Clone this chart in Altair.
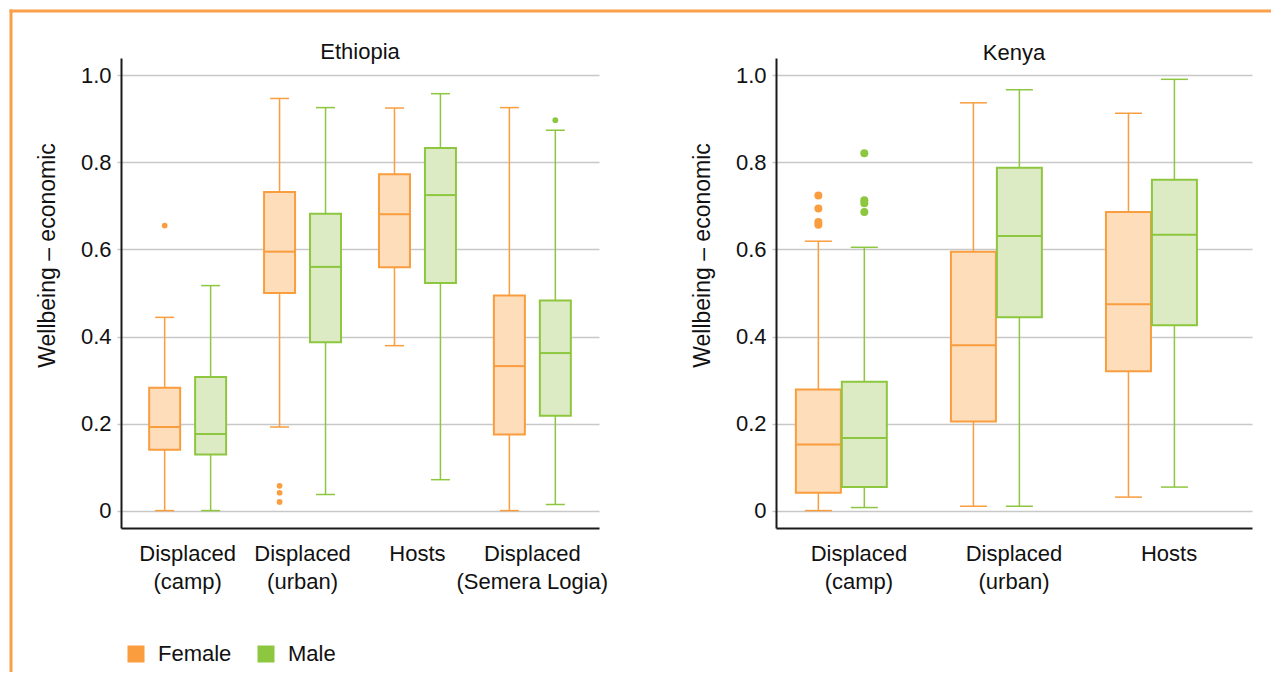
import altair as alt
import pandas as pd

GENDERS = ["Female", "Male"]
GKEYS = ["f", "m"]
STRONG = ["#F99D3E", "#8DC63F"]
LIGHT = ["#FEDDBB", "#DDEBC5"]
FRAME = "#F9A04A"
Y_TITLE = "Wellbeing – economic"

# ---- Ethiopia ----
eth_groups = ["Displaced (camp)", "Displaced (urban)", "Hosts", "Displaced (Semera Logia)"]
eth_f_lo = [0.0, 0.192, 0.379, 0.0]
eth_f_q1 = [0.140, 0.500, 0.559, 0.175]
eth_f_med = [0.192, 0.595, 0.681, 0.332]
eth_f_q3 = [0.282, 0.732, 0.773, 0.494]
eth_f_hi = [0.444, 0.947, 0.925, 0.926]
eth_m_lo = [0.0, 0.037, 0.071, 0.014]
eth_m_q1 = [0.129, 0.387, 0.523, 0.218]
eth_m_med = [0.176, 0.560, 0.725, 0.362]
eth_m_q3 = [0.307, 0.682, 0.833, 0.483]
eth_m_hi = [0.517, 0.926, 0.958, 0.874]
eth_out_group = ["Displaced (camp)", "Displaced (urban)", "Displaced (urban)", "Displaced (urban)",
                 "Displaced (Semera Logia)"]
eth_out_gender = ["Female", "Female", "Female", "Female", "Male"]
eth_out_value = [0.655, 0.057, 0.041, 0.020, 0.897]

# ---- Kenya ----
ken_groups = ["Displaced (camp)", "Displaced (urban)", "Hosts"]
ken_f_lo = [0.0, 0.010, 0.031]
ken_f_q1 = [0.041, 0.205, 0.320]
ken_f_med = [0.152, 0.380, 0.474]
ken_f_q3 = [0.278, 0.595, 0.686]
ken_f_hi = [0.619, 0.937, 0.913]
ken_m_lo = [0.007, 0.010, 0.054]
ken_m_q1 = [0.054, 0.444, 0.426]
ken_m_med = [0.167, 0.631, 0.634]
ken_m_q3 = [0.296, 0.788, 0.760]
ken_m_hi = [0.605, 0.967, 0.991]
ken_out_group = ["Displaced (camp)"] * 8
ken_out_gender = ["Female"] * 4 + ["Male"] * 4
ken_out_value = [0.724, 0.694, 0.663, 0.657, 0.821, 0.713, 0.706, 0.686]


def stats_frame(groups, f, m):
    rows = []
    for i, g in enumerate(groups):
        for gender, key, vals in (("Female", "f", f), ("Male", "m", m)):
            lo, q1, med, q3, hi = vals
            rows.append(dict(group=g, gender=gender, g2=key,
                             lo=lo[i], q1=q1[i], med=med[i], q3=q3[i], hi=hi[i]))
    return pd.DataFrame(rows)


eth_stats = stats_frame(eth_groups,
                        (eth_f_lo, eth_f_q1, eth_f_med, eth_f_q3, eth_f_hi),
                        (eth_m_lo, eth_m_q1, eth_m_med, eth_m_q3, eth_m_hi))
ken_stats = stats_frame(ken_groups,
                        (ken_f_lo, ken_f_q1, ken_f_med, ken_f_q3, ken_f_hi),
                        (ken_m_lo, ken_m_q1, ken_m_med, ken_m_q3, ken_m_hi))
eth_out = pd.DataFrame(dict(group=eth_out_group, gender=eth_out_gender, value=eth_out_value))
ken_out = pd.DataFrame(dict(group=ken_out_group, gender=ken_out_gender, value=ken_out_value))

y_scale = alt.Scale(domain=[-0.04, 1.04], nice=False, zero=False)
y_axis = alt.Axis(values=[0, 0.2, 0.4, 0.6, 0.8, 1.0],
                  labelExpr="datum.value == 0 ? '0' : format(datum.value, '.1f')",
                  grid=True, gridColor="#c8c8c8", gridWidth=1.5,
                  tickColor="#c8c8c8", tickSize=4, tickWidth=1.5,
                  domainColor="#1a1a1a", domainWidth=2,
                  labelFontSize=22, labelPadding=6, labelColor="#111111",
                  titleFontSize=23, titleFontWeight="normal", titlePadding=21, titleColor="#111111",
                  titleY=197)

legend = alt.Legend(title=None, orient="none", legendX=4, legendY=585, direction="horizontal",
                    symbolType="square", symbolSize=289, symbolStrokeWidth=0, symbolOpacity=1,
                    labelFontSize=22, labelOffset=11, columnPadding=23, padding=0, labelColor="#111111")


def panel(groups, stats, outl, width, pin, pout, box, cap, pt, title, toff, frame=False):
    x = alt.X("group:N", sort=groups, title=None,
              scale=alt.Scale(domain=groups, paddingInner=pin, paddingOuter=pout),
              axis=alt.Axis(labelExpr="split(replace(datum.label, ' (', '|('), '|')",
                            labelAngle=0, ticks=False, grid=False,
                            domainColor="#1a1a1a", domainWidth=2,
                            labelPadding=15, labelLineHeight=28, labelFontSize=22,
                            labelColor="#111111"))
    xo = alt.XOffset("gender:N", sort=GENDERS,
                     scale=alt.Scale(domain=GENDERS, paddingInner=0, paddingOuter=0))

    def Y(f):
        return alt.Y(f"{f}:Q", scale=y_scale, axis=y_axis, title=Y_TITLE)

    stroke = alt.Stroke("g2:N", scale=alt.Scale(domain=GKEYS, range=STRONG), legend=None)
    fill = alt.Fill("g2:N", scale=alt.Scale(domain=GKEYS, range=LIGHT), legend=None)
    color = alt.Color("gender:N", scale=alt.Scale(domain=GENDERS, range=STRONG), legend=legend)

    base = alt.Chart(stats)
    whisk = base.mark_rule(strokeWidth=1.5).encode(x=x, xOffset=xo, y=Y("lo"), y2="hi:Q", stroke=stroke)
    boxes = base.mark_bar(size=box, strokeWidth=2).encode(
        x=x, xOffset=xo, y=Y("q1"), y2="q3:Q", fill=fill, stroke=stroke)
    med = base.mark_tick(size=box, thickness=2, opacity=1).encode(x=x, xOffset=xo, y=Y("med"), color=color)
    cap_lo = base.mark_tick(size=cap, thickness=1.5, opacity=1).encode(x=x, xOffset=xo, y=Y("lo"), color=color)
    cap_hi = base.mark_tick(size=cap, thickness=1.5, opacity=1).encode(x=x, xOffset=xo, y=Y("hi"), color=color)
    pts = alt.Chart(outl).mark_circle(size=pt, opacity=1).encode(
        x=x, xOffset=xo, y=alt.Y("value:Q", scale=y_scale, axis=y_axis, title=Y_TITLE), color=color)
    layers = [whisk, boxes, med, cap_lo, cap_hi, pts]
    if frame:
        fr = alt.Chart(pd.DataFrame({"k": [0]}))
        layers.append(fr.mark_rule(color=FRAME, strokeWidth=3).encode(
            x=alt.value(-110), y=alt.value(-48.5), y2=alt.value(614)))
        layers.append(fr.mark_rule(color=FRAME, strokeWidth=3).encode(
            x=alt.value(-111.5), x2=alt.value(1150), y=alt.value(-47)))
    return alt.layer(*layers).properties(
        width=width, height=470,
        title=alt.TitleParams(title, fontSize=22, fontWeight="normal", anchor="middle",
                              frame="group", baseline="alphabetic", offset=toff, color="#111111"))


eth = panel(eth_groups, eth_stats, eth_out, 478, 0.2, 0.18, 31, 19, 33, "Ethiopia", -73, frame=True)
ken = panel(ken_groups, ken_stats, ken_out, 476, 0.18, 0.125, 45, 27, 64, "Kenya", -24)

chart = alt.hconcat(eth, ken, spacing=177, bounds="flush", padding=0).configure(
    font="Liberation Sans").configure_view(stroke=None)

chart.save("out.html", embed_options={"renderer": "svg", "actions": False})
